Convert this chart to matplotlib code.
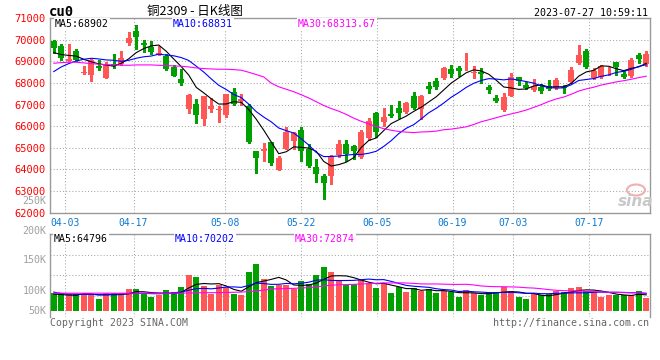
import matplotlib
matplotlib.use("Agg")
import matplotlib.pyplot as plt
import numpy as np
import pandas as pd
from matplotlib.patches import Ellipse

W, H = 660, 360
UP, DOWN = "#ff5656", "#00a000"
GRID = "#a8a8a8"
FRAME = "#999999"
MONO = "DejaVu Sans Mono"

# 80 daily sessions, 03-30 .. 07-27
opens = [69923, 69708, 69030, 69460, 68460, 68370, 68800, 68230, 68890, 68890,
         69846, 70380, 69850, 69660, 69300, 69250, 68740, 68200, 66800, 67015,
         66320, 66800, 66760, 66510, 67570, 67155, 66955, 64845, 64830, 65260,
         63955, 64955, 65320, 65815, 64940, 64110, 63710, 63710, 64645, 65170,
         65080, 64570, 65445, 66600, 66200, 66555, 66830, 66640, 67405, 66800,
         67865, 68090, 68215, 68640, 68700, 68855, 68460, 68520, 67815, 67315,
         66765, 67405, 68260, 67910, 67665, 67790, 67850, 67742, 67790, 68030,
         68939, 69470, 68227, 68273, 68485, 68970, 68424, 68303, 69303, 68864]
highs = [70000, 69800, 69790, 69585, 68770, 69090, 69050, 68950, 69320, 69460,
         70330, 70660, 69985, 69920, 69710, 69320, 68850, 68630, 67490, 67260,
         67415, 67310, 66920, 67510, 67755, 67490, 67015, 64860, 65215, 65290,
         64600, 65940, 65710, 65955, 65170, 64490, 63785, 64645, 65340, 65370,
         65110, 65845, 66355, 66645, 66860, 66970, 67170, 67115, 67600, 67420,
         68030, 68245, 68720, 68825, 68780, 69360, 68780, 68670, 67910, 67450,
         67525, 68475, 68290, 68060, 68180, 67950, 68150, 68210, 67924, 68758,
         69742, 69545, 68697, 68818, 68712, 68970, 68606, 69136, 69394, 69470]
lows = [69385, 69046, 69000, 69015, 68415, 68077, 68615, 68230, 68710, 68850,
        69754, 69570, 69415, 69350, 69290, 68600, 68300, 67890, 66615, 66140,
        66060, 66660, 66170, 66430, 67000, 66985, 65200, 63850, 64385, 64185,
        63955, 64940, 64955, 64400, 64120, 63400, 62650, 63320, 64570, 64385,
        64460, 64540, 65355, 65510, 66000, 66430, 66400, 66610, 66795, 66335,
        67555, 67710, 68180, 68290, 68320, 68595, 68215, 68015, 67555, 67100,
        66685, 67375, 67910, 67710, 67620, 67545, 67650, 67697, 67545, 68000,
        68864, 68682, 68197, 68242, 68348, 68379, 68227, 68273, 68939, 68788]
closes = [69631, 69154, 69090, 69080, 68500, 69046, 68680, 68830, 68800, 69170,
          70092, 70110, 69760, 69430, 69360, 68650, 68320, 68015, 67460, 66520,
          67385, 66955, 66790, 67480, 67045, 67245, 65290, 64540, 64955, 64310,
          64540, 65740, 65675, 64830, 64155, 63800, 63385, 64615, 65155, 64710,
          64860, 65740, 66230, 65740, 66415, 66475, 66615, 67085, 66825, 67375,
          67695, 67815, 68670, 68410, 68565, 68885, 68490, 68410, 67650, 67175,
          67330, 68260, 68090, 67755, 67850, 67605, 67740, 68152, 67760, 68606,
          69303, 68712, 68530, 68788, 68515, 68727, 68273, 69061, 69121, 69348]
volumes = [73500, 71100, 68300, 69500, 68300, 68300, 47000, 72300, 71100, 71100,
           87100, 87100, 69500, 55000, 63000, 83100, 76300, 96400, 143300, 135300,
           100400, 67000, 103200, 96400, 67000, 63000, 155400, 187500, 127300, 101600,
           103200, 103200, 87100, 119600, 107600, 143700, 175900, 156600, 124500, 103200,
           108400, 128500, 113600, 92300, 113600, 72300, 95200, 76300, 92300, 79100,
           87100, 72300, 79100, 74300, 56200, 84300, 71100, 63000, 72300, 76300,
           96400, 80300, 56200, 48200, 69500, 63000, 68300, 80300, 75100, 92300,
           96400, 80300, 76300, 56200, 64200, 63000, 63000, 65400, 80300, 52200]

# averages for the first sessions (history is off screen)
ma5_head = [69400, 69310, 69270, 69240]
ma10_head = [68523, 68738, 68892, 69015, 69092, 69138, 69108, 69062, 69046]
ma30_head = [68908, 68938, 68954, 68954, 68923, 68892, 68862, 68846, 68831, 68815,
             68815, 68831, 68831, 68831, 68815, 68800, 68785, 68769, 68738, 68692,
             68662, 68646, 68631, 68631, 68615, 68585, 68492, 68385, 68277]
vma5_head = [68000, 66000, 64000, 63000]
vma10_head = [76000, 70000, 68000, 67500, 67000, 66500, 65500, 65500, 66500]
vma30_head = [72000, 72000, 71500, 71500, 71500, 71500, 71500, 71500, 71500, 71500,
              71500, 71500, 71500, 71500, 71500, 71500, 71500, 72000, 72500, 73000,
              73500, 73500, 74000, 74500, 75000, 76000, 78000, 80500, 84000]

date_idx = [2, 11, 23, 33, 43, 53, 61, 71]
date_labels = ["04-03", "04-17", "05-08", "05-22", "06-05", "06-19", "07-03", "07-17"]
price_ticks = list(range(62000, 71001, 1000))
vol_labels = ["250K", "200K", "150K", "100K", "50K"]


def moving_average(values, n, head):
    ma = pd.Series(values, dtype=float).rolling(n).mean().to_numpy()
    ma[:n - 1] = head
    return ma


def fx(x):
    return x / W


def fy(y):
    return 1 - y / H


o = np.array(opens, float)
c = np.array(closes, float)
x = np.arange(len(o))
colors = np.where(c >= o, UP, DOWN)
# sina spaces its date grid over n-1 slots, so it drifts slightly off the candles
date_pos = np.array(date_idx) * len(x) / (len(x) - 1) - 0.5

fig = plt.figure(figsize=(W / 100, H / 100), dpi=100)
ax = fig.add_axes([fx(50), fy(212.7), fx(600), (212.7 - 18) / H])
axv = fig.add_axes([fx(50), fy(317), fx(600), (317 - 234) / H])

# price panel
ax.vlines(x, lows, highs, colors=colors, lw=0.8, antialiased=False, zorder=3)
ax.bar(x, np.maximum(np.abs(c - o), 40), bottom=np.minimum(o, c), width=0.8,
       color=colors, linewidth=0, antialiased=False, zorder=3)
ax.plot(x, moving_average(closes, 5, ma5_head), color="black", lw=0.8, zorder=4)
ax.plot(x, moving_average(closes, 10, ma10_head), color="#0000ff", lw=0.8, zorder=4)
ax.plot(x, moving_average(closes, 30, ma30_head), color="#ff00ff", lw=0.8, zorder=4)
ax.set_xlim(-0.5, len(x) - 0.5)
ax.set_ylim(62000, 71000)
ax.set_yticks(price_ticks)
ax.set_yticklabels([str(t) for t in price_ticks])
ax.set_xticks(date_pos)
ax.set_xticklabels(date_labels)
ax.tick_params(axis="y", length=0, pad=3, labelsize=7.5, labelcolor="#ff0000")
ax.tick_params(axis="x", length=0, pad=3.5, labelsize=7, labelcolor="#0a78d0")
for lab in ax.get_xticklabels() + ax.get_yticklabels():
    lab.set_family(MONO)
ax.grid(True, color=GRID, linestyle=(0, (1, 2)), lw=0.75, zorder=1)

# volume panel
axv.bar(x, volumes, width=0.8, color=colors, linewidth=0, antialiased=False, zorder=3)
axv.plot(x, moving_average(volumes, 5, vma5_head), color="black", lw=0.8, zorder=4)
axv.plot(x, moving_average(volumes, 10, vma10_head), color="#0000ff", lw=0.8, zorder=4)
axv.plot(x, moving_average(volumes, 30, vma30_head), color="#ff00ff", lw=0.8, zorder=4)
axv.set_xlim(-0.5, len(x) - 0.5)
lo, hi = -24000, 309000
axv.set_ylim(lo, hi)
axv.set_yticks(lo + (hi - lo) * np.array([0.25, 0.5, 0.75]))
axv.set_yticklabels([])
axv.set_xticks(date_pos)
axv.set_xticklabels([])
axv.tick_params(length=0)
axv.grid(True, color=GRID, linestyle=(0, (1, 2)), lw=0.75, zorder=1)

for a in (ax, axv):
    for sp in a.spines.values():
        sp.set_color(FRAME)
        sp.set_linewidth(1)
axv.spines["bottom"].set_visible(False)

# header texts
fig.text(fx(49), fy(12), "cu0", fontsize=10, fontweight="bold", family=MONO, va="center")
fig.text(fx(195), fy(12), "铜2309 - 日K线图", fontsize=9, ha="center", va="center",
         family=["Noto Sans CJK SC", "DejaVu Sans"])
fig.text(fx(648), fy(12.5), "2023-07-27 10:59:11", fontsize=7.2, family=MONO,
         ha="right", va="center")

box = dict(facecolor="white", edgecolor="none", pad=0.5)
for xp, yp, s, col in [(55, 24, "MA5:68902", "black"),
                       (173, 24, "MA10:68831", "#0000ff"),
                       (298, 24, "MA30:68313.67", "#ff00ff"),
                       (54, 238.5, "MA5:64796", "black"),
                       (175, 238.5, "MA10:70202", "#0000ff"),
                       (295, 238.5, "MA30:72874", "#ff00ff")]:
    fig.text(fx(xp), fy(yp), s, fontsize=7.1, family=MONO, color=col,
             va="center", bbox=box)

for s, yp in zip(vol_labels, [200.7, 230.7, 260, 291, 310.7]):
    fig.text(fx(46.7), fy(yp), s, fontsize=7.2, family=MONO, color="#a0a0a0",
             ha="right", va="center")

fig.text(fx(50), fy(323.5), "Copyright 2023 SINA.COM", fontsize=7.1, family=MONO,
         color="#666666", va="center")
fig.text(fx(649), fy(323.5), "http://finance.sina.com.cn", fontsize=7.2, family=MONO,
         color="#666666", ha="right", va="center")

# sina watermark
fig.patches.append(Ellipse((fx(636), fy(190)), 18 / W, 11 / H, transform=fig.transFigure,
                           facecolor="none", edgecolor="#f0b0b0", lw=1.5))
fig.text(fx(636), fy(201), "sina", fontsize=11, fontweight="bold", style="italic",
         color="#c8c8c8", ha="center", va="center")

fig.savefig("out.png", dpi=100)
